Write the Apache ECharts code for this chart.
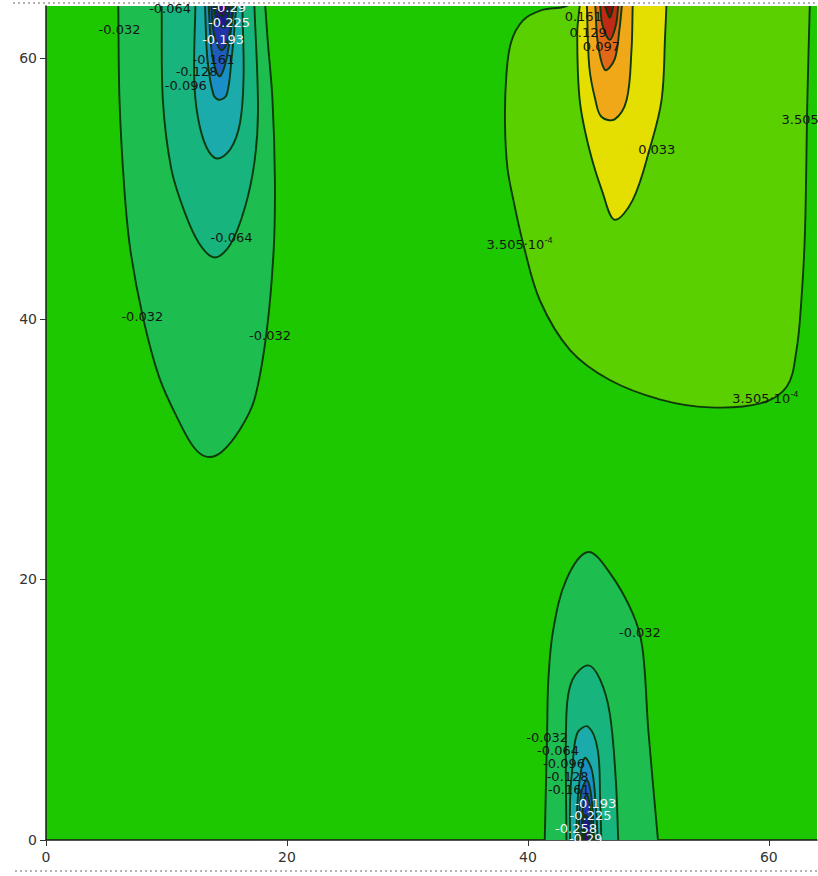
<!DOCTYPE html>
<html>
<head>
<meta charset="utf-8">
<script src="https://cdn.jsdelivr.net/npm/echarts@6/dist/echarts.min.js"></script>
<style>
  html, body { margin: 0; padding: 0; background: #fff; }
  #chart { width: 818px; height: 876px; }
</style>
</head>
<body>
<div id="chart"></div>
<script>
// contour outlines, [x, y] in axis units
// top-left trough (negative levels)
const tl032 = [[6.0, 64], [6.1, 56.8], [6.5, 50], [7.0, 45.3], [8.05, 40.1], [9.4, 35.5], [11.0, 32.2], [12.3, 30.1], [13.4, 29.4], [14.6, 29.8], [16.1, 31.5], [17.3, 33.8], [18.3, 38.9], [18.9, 45.3], [19.0, 50.7], [18.8, 56.8], [18.4, 61.4], [18.2, 64]];
const tl064 = [[9.6, 64], [9.7, 56.8], [10.4, 51.5], [11.5, 48.2], [12.7, 45.8], [14.0, 44.7], [15.3, 45.7], [16.5, 48.5], [17.3, 52], [17.6, 56], [17.3, 64]];
const tl096 = [[12.4, 64], [12.3, 58.5], [12.6, 55.5], [13.3, 53.2], [14.2, 52.3], [15.3, 53.0], [16.1, 55.0], [16.4, 58.5], [16.3, 64]];
const tl128 = [[13.2, 64], [13.4, 59.9], [13.9, 57.2], [14.4, 56.8], [15.0, 57.2], [15.4, 59.9], [15.8, 64]];
const tl161 = [[13.5, 64], [13.8, 60.2], [14.4, 58.6], [15.0, 60.0], [15.6, 64]];
const tl193 = [[13.7, 64], [14.0, 61.6], [14.6, 60.6], [15.2, 61.8], [15.5, 64]];
const tl225 = [[13.9, 64], [14.3, 62.6], [14.9, 62.4], [15.3, 64]];
const tl258 = [[14.1, 64], [14.6, 63.2], [15.1, 64]];

// top-centre peak (positive levels)
const tc00035 = [[43.2, 64], [41.2, 63.7], [39.6, 62.9], [38.6, 61.2], [38.2, 58.5], [38.1, 55.0], [38.3, 51.6], [38.8, 49.1], [39.6, 45.8], [41.0, 41.4], [43.5, 37.6], [46.8, 35.3], [51.0, 33.8], [55.1, 33.2], [59.3, 33.5], [61.5, 34.8], [62.3, 37.6], [62.7, 41.4], [63.0, 46.6], [63.2, 56.8], [63.4, 64]];
const tc033 = [[44.3, 64], [44.1, 61.9], [44.3, 56.8], [45.1, 53.0], [46.2, 49.7], [47.2, 47.6], [48.7, 49.1], [50.1, 53.0], [51.1, 56.8], [51.4, 61.9], [51.5, 64]];
const tc065 = [[44.9, 64], [45.1, 59.3], [45.6, 56.8], [46.1, 55.5], [47.2, 55.3], [48.2, 56.8], [48.6, 60.6], [48.7, 64]];
const tc097 = [[45.6, 64], [45.8, 61.2], [46.4, 59.1], [47.2, 59.9], [47.6, 62.2], [47.8, 64]];
const tc129 = [[46.0, 64], [46.2, 62.5], [46.8, 61.4], [47.3, 62.5], [47.5, 64]];
const tc161 = [[46.4, 64], [46.8, 63.1], [47.1, 64]];

// bottom trough (negative levels)
const bc032 = [[41.4, 0], [41.6, 8.4], [41.7, 12.3], [42.1, 16.1], [43.2, 20.0], [45.0, 22.1], [46.8, 20.5], [48.7, 17.4], [49.5, 14.8], [50.0, 8.4], [50.8, 0]];
const bc064 = [[43.2, 0], [43.2, 9.7], [43.7, 12.3], [45.0, 13.4], [46.0, 12.3], [46.8, 9.7], [47.3, 4.6], [47.5, 0]];
const bc096 = [[43.5, 0], [43.5, 3.1], [43.7, 5.6], [44.1, 8.2], [45.0, 8.7], [45.8, 6.9], [46.0, 3.1], [46.1, 0]];
const bc128 = [[44.0, 0], [44.2, 3.8], [44.7, 6.3], [45.3, 5.4], [45.6, 3.1], [45.8, 0]];
const bc161 = [[44.2, 0], [44.4, 3.5], [44.9, 4.6], [45.3, 3.1], [45.5, 0]];
const bc193 = [[44.4, 0], [44.6, 2.7], [44.9, 3.5], [45.2, 2.3], [45.4, 0]];
const bc225 = [[44.5, 0], [44.7, 1.9], [45.1, 1.5], [45.3, 0]];
const bc258 = [[44.6, 0], [44.8, 0.9], [45.1, 0]];

// draw order (outer first) and the level each outline belongs to
const outlines = [tl032, tl064, tl096, tl128, tl161, tl193, tl225, tl258,
  tc00035, tc033, tc065, tc097, tc129, tc161,
  bc032, bc064, bc096, bc128, bc161, bc193, bc225, bc258];
const outlineLevels = [-0.032, -0.064, -0.096, -0.128, -0.161, -0.193, -0.225, -0.258,
  0.00035, 0.033, 0.065, 0.097, 0.129, 0.161,
  -0.032, -0.064, -0.096, -0.128, -0.161, -0.193, -0.225, -0.258];

// contour labels
const labelText = ["-0.032", "-0.064", "-0.29", "-0.225", "-0.193", "-0.161", "-0.128", "-0.096", "-0.064", "-0.032", "-0.032",
  "0.161", "0.129", "0.097", "0.033", "3.505·10{s|-4}", "3.505·10{s|-4}", "3.505",
  "-0.032", "-0.032", "-0.064", "-0.096", "-0.128", "-0.161", "-0.193", "-0.225", "-0.258", "-0.29"];
const labelX = [6.1, 10.3, 15.2, 15.2, 14.7, 13.9, 12.5, 11.6, 15.4, 8.0, 18.6,
  44.6, 45.0, 46.1, 50.7, 39.3, 59.7, 62.6,
  49.3, 41.6, 42.5, 43.0, 43.3, 43.4, 45.6, 45.2, 44.0, 44.8];
const labelY = [62.2, 63.8, 63.9, 62.7, 61.4, 59.9, 59.0, 57.9, 46.2, 40.2, 38.7,
  63.2, 62.0, 60.9, 53.0, 45.7, 33.9, 55.3,
  15.9, 7.9, 6.9, 5.9, 4.9, 3.9, 2.8, 1.9, 0.9, 0.1];

// band colours, keyed by the bounding level
const bandColor = {
  "-0.032": "#1dbd50", "-0.064": "#17b47e", "-0.096": "#1cabab", "-0.128": "#1a8ec6",
  "-0.161": "#1f5cc0", "-0.193": "#2234a8", "-0.225": "#1c1a8c", "-0.258": "#3a0a78",
  "0.00035": "#5ad000", "0.033": "#e4df00", "0.065": "#f0a818", "0.097": "#e06818",
  "0.129": "#c02a14", "0.161": "#880c0c"
};
const baseGreen = "#1ec800";

const chart = echarts.init(document.getElementById("chart"), null, { renderer: "svg" });

// continue end points that sit on the frame outward so the closing edge falls outside the grid
function extend(pts) {
  const out = pts.slice();
  const n = pts.length;
  const ext = (p, q) => {
    if (p[1] < 64 && p[1] > 0) return null;
    const dx = p[0] - q[0], dy = p[1] - q[1];
    const k = Math.min(3 / Math.max(Math.abs(dy), 0.01), 2);
    const y = p[1] >= 64 ? Math.max(p[1] + dy * k, 66) : Math.min(p[1] + dy * k, -2);
    return [p[0] + dx * k, y];
  };
  const a = ext(pts[0], pts[1]);
  const b = ext(pts[n - 1], pts[n - 2]);
  if (a) out.unshift(a);
  if (b) out.push(b);
  return out;
}

const option = {
  animation: false,
  backgroundColor: "#fff",
  grid: {
    left: 46, right: 1, top: 6, bottom: 36,
    show: true, backgroundColor: baseGreen, borderWidth: 0
  },
  xAxis: {
    type: "value", min: 0, max: 64, interval: 20,
    axisLine: { show: true, onZero: false, lineStyle: { color: "#1a1a1a", width: 1.5 } },
    axisTick: { show: true, length: 6, lineStyle: { color: "#333" } },
    axisLabel: { color: "#333", fontSize: 14, fontFamily: "DejaVu Sans", margin: 10, showMaxLabel: false },
    splitLine: { show: false }
  },
  yAxis: {
    type: "value", min: 0, max: 64, interval: 20,
    axisLine: { show: true, onZero: false, lineStyle: { color: "#1a1a1a", width: 1.5 } },
    axisTick: { show: true, length: 6, lineStyle: { color: "#333" } },
    axisLabel: { color: "#333", fontSize: 14, fontFamily: "DejaVu Sans", margin: 9, showMaxLabel: false },
    splitLine: { show: false }
  },
  graphic: [
    { type: "line", shape: { x1: 13, y1: 3, x2: 818, y2: 3 }, style: { stroke: "#9a9a9a", lineDash: [2, 3], lineWidth: 1.5 } },
    { type: "line", shape: { x1: 15, y1: 871, x2: 818, y2: 871 }, style: { stroke: "#9a9a9a", lineDash: [2, 3], lineWidth: 1.5 } }
  ],
  series: [
    {
      type: "custom",
      name: "contours",
      clip: true,
      silent: true,
      data: outlines.map((o) => o[0]),
      renderItem: (params, api) => {
        const pts = extend(outlines[params.dataIndex]).map((p) => api.coord(p));
        return {
          type: "polygon",
          shape: { points: pts, smooth: 0.35 },
          style: { fill: bandColor[String(outlineLevels[params.dataIndex])], stroke: "#0c3a0c", lineWidth: 1.9 }
        };
      }
    },
    {
      type: "custom",
      name: "labels",
      clip: false,
      silent: true,
      data: labelX.map((x, i) => [x, labelY[i]]),
      renderItem: (params, api) => {
        const p = api.coord([api.value(0), api.value(1)]);
        const t = labelText[params.dataIndex];
        const v = Math.abs(parseFloat(t));
        const white = v >= 0.19 && v < 1;
        return {
          type: "text",
          x: p[0], y: p[1],
          style: {
            text: t,
            fill: white ? "#f4f4ff" : "#141414",
            font: "13px 'DejaVu Sans'",
            align: "center",
            verticalAlign: "middle",
            rich: { s: { fontSize: 9, fill: "#141414", padding: [0, 0, 9, 0] } }
          }
        };
      }
    }
  ]
};

chart.setOption(option);
</script>
</body>
</html>
